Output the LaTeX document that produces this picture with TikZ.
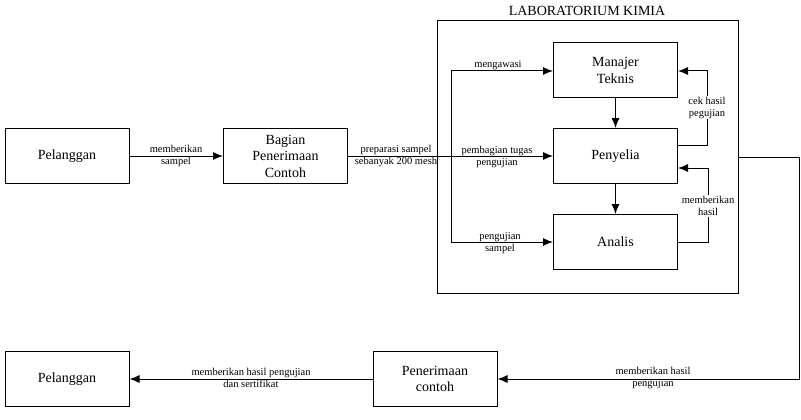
\documentclass[tikz,border=0pt]{standalone}
\usepackage{fontspec}
\setmainfont{Liberation Serif}
\usetikzlibrary{arrows.meta}
\tikzstyle{box}=[rectangle,draw,line width=1pt,minimum width=124pt,minimum height=55pt,align=center,font=\fontsize{14}{16.5}\selectfont]
\tikzstyle{lab}=[rectangle,draw,line width=1pt,minimum width=301pt,minimum height=272pt]
\tikzstyle{lbl}=[align=center,inner sep=1pt,font=\fontsize{10.5}{12}\selectfont]
\tikzstyle{flow}=[line width=1pt,-{Latex[length=10pt,width=8pt]}]
\tikzstyle{line}=[line width=1pt]

\begin{document}
\begin{tikzpicture}[x=1pt,y=-1pt]
  \useasboundingbox (0,0) rectangle (801,420);
  \node at ( 67,156) [box] (Pelanggan) {Pelanggan};
  \node at (285.5,156) [box] (Bagian) {Bagian\\Penerimaan\\Contoh};
  \node at (587.5,157) [lab] (Lab) {};
  \node at (587,11) [font=\fontsize{14}{16}\selectfont] (Title) {LABORATORIUM KIMIA};
  \node at (615.5,70.5) [box] (Manajer) {Manajer\\Teknis};
  \node at (615.5,156) [box] (Penyelia) {Penyelia};
  \node at (615.5,242) [box] (Analis) {Analis};
  \node at ( 67,379) [box] (PelangganB) {Pelanggan};
  \node at (435,379) [box] (Penerimaan) {Penerimaan\\contoh};
  \coordinate (BranchTop) at (451,71);
  \coordinate (BranchBot) at (451,242);
  \coordinate (CekBot) at (707,145);
  \coordinate (CekTop) at (707,71);
  \coordinate (HasilBot) at (708,242);
  \coordinate (HasilTop) at (708,168);
  \coordinate (OutTop) at (799,157);
  \draw [flow] (Pelanggan) to (Bagian);
  \draw [flow] (Bagian) to (Penyelia);
  \draw [line] (BranchTop) to (BranchBot);
  \draw [flow] (BranchTop) to (BranchTop -| Manajer.west);
  \draw [flow] (BranchBot) to (BranchBot -| Analis.west);
  \draw [flow] (Manajer) to (Penyelia);
  \draw [flow] (Penyelia) to (Analis);
  \draw [flow] (Penyelia.east |- CekBot) -- (CekBot) -- (CekTop) -- (Manajer.east |- CekTop);
  \draw [flow] (Analis.east |- HasilBot) -- (HasilBot) -- (HasilTop) -- (Penyelia.east |- HasilTop);
  \draw [flow] (Lab.east) -- (OutTop) -- (OutTop |- Penerimaan.east) -- (Penerimaan.east);
  \draw [flow] (Penerimaan) to (PelangganB);
  % labels on the connectors
  \node at (176,156) [lbl] (LblSampel) {memberikan\\sampel};
  \node at (396,156) [lbl] (LblPreparasi) {preparasi sampel\\sebanyak 200 mesh};
  \node at (497,157) [lbl] (LblTugas) {pembagian tugas\\pengujian};
  \node at (498,65) [lbl] (LblAwasi) {mengawasi};
  \node at (500,243) [lbl] (LblUji) {pengujian\\sampel};
  \node at (707,107.5) [lbl,fill=white] (LblCek) {cek hasil\\pegujian};
  \node at (708,206) [lbl,fill=white] (LblHasil) {memberikan\\hasil};
  \node at (251,378) [lbl] (LblSertifikat) {memberikan hasil pengujian\\dan sertifikat};
  \node at (653,378) [lbl] (LblKirim) {memberikan hasil\\pengujian};
\end{tikzpicture}
\end{document}
